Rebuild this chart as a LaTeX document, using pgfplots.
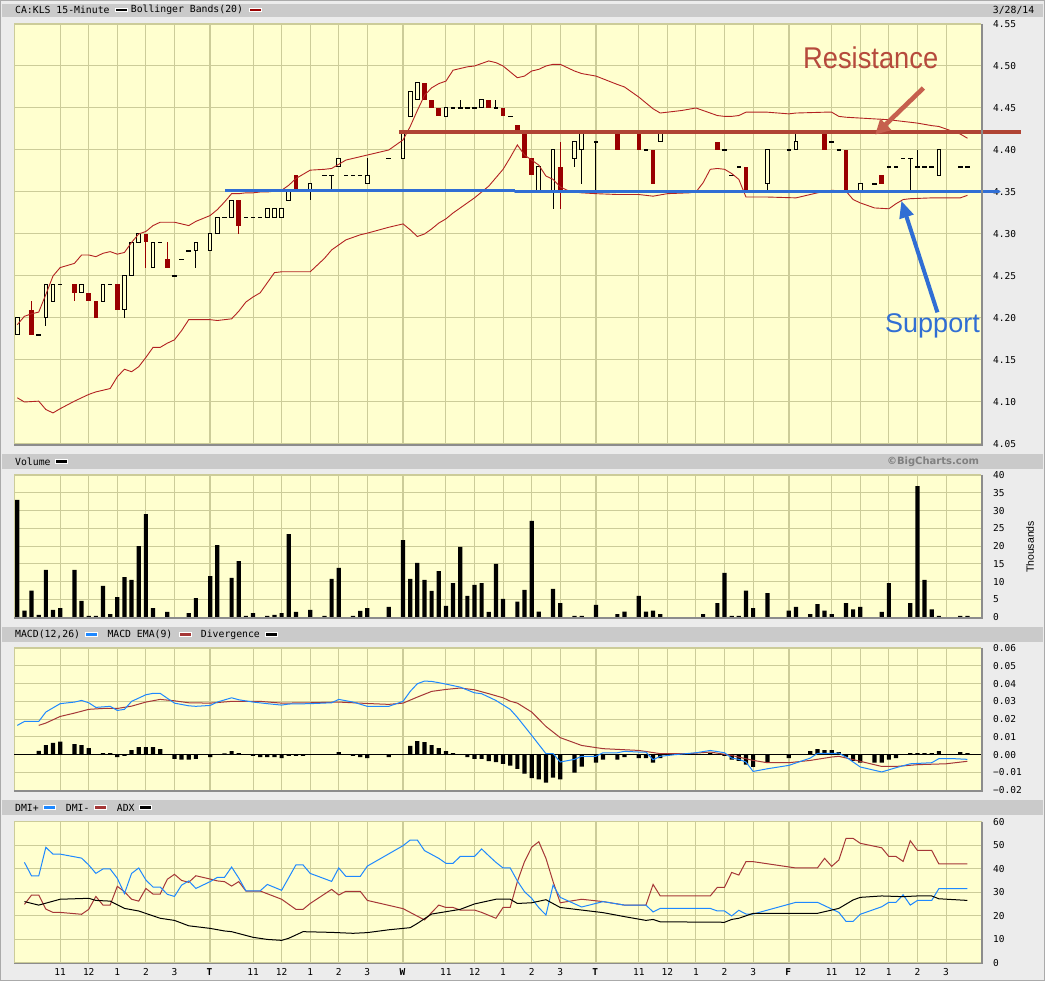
\documentclass[border=0pt]{standalone}
\usepackage{fontspec}
\setmainfont{Liberation Sans}
\setmonofont{DejaVu Sans Mono}
\newfontfamily\wmfont{DejaVu Sans}
\usepackage{graphicx}
\usepackage{pgfplots}
\usepackage{pgfplotstable}
\pgfplotsset{compat=1.18}
\usetikzlibrary{arrows.meta}

\definecolor{pagegray}{RGB}{236,236,236}
\definecolor{framegray}{RGB}{170,170,170}
\definecolor{hdrbar}{RGB}{202,202,202}
\definecolor{plotbg}{RGB}{255,255,207}
\definecolor{gridc}{RGB}{204,204,153}
\definecolor{shadowgray}{RGB}{140,140,140}
\definecolor{candlered}{RGB}{153,0,0}
\definecolor{bandred}{RGB}{178,34,34}
\definecolor{resist}{RGB}{176,68,52}
\definecolor{resisttext}{RGB}{182,74,60}
\definecolor{resistarrow}{RGB}{198,96,78}
\definecolor{supportblue}{RGB}{48,110,212}
\definecolor{macdblue}{RGB}{30,136,255}
\definecolor{emared}{RGB}{165,55,55}

\newcommand{\pix}{\ttfamily\fontsize{9.5}{10}\selectfont}
\newcommand{\hdr}{\ttfamily\fontsize{9.8}{10}\selectfont}
\newcommand{\swatch}[3]{\filldraw[fill=#1, draw=white, line width=0.8pt] (#2,#3-1.8) rectangle ++(12,3.6);}

% candles: slot, open, high, low, close (27 slots per day, slot 26 = 16:00 is empty)
\pgfplotstableread{
s o h l c
0 4.18 4.20 4.18 4.20
4 4.20 4.24 4.19 4.24
5 4.22 4.24 4.22 4.24
9 4.23 4.24 4.23 4.24
12 4.22 4.24 4.22 4.24
15 4.21 4.25 4.20 4.25
16 4.25 4.29 4.25 4.29
17 4.29 4.30 4.29 4.30
19 4.26 4.29 4.26 4.29
25 4.28 4.29 4.26 4.29
27 4.28 4.30 4.28 4.30
28 4.30 4.32 4.30 4.32
30 4.32 4.34 4.32 4.34
35 4.32 4.33 4.32 4.33
36 4.32 4.33 4.32 4.33
37 4.32 4.33 4.32 4.33
38 4.34 4.35 4.34 4.35
41 4.35 4.36 4.34 4.36
45 4.38 4.39 4.38 4.39
49 4.36 4.39 4.36 4.37
54 4.39 4.42 4.39 4.42
55 4.44 4.47 4.44 4.47
56 4.46 4.48 4.46 4.48
60 4.44 4.45 4.44 4.45
65 4.45 4.46 4.45 4.46
73 4.35 4.38 4.35 4.38
75 4.35 4.40 4.33 4.40
78 4.39 4.41 4.38 4.41
79 4.40 4.42 4.36 4.42
90 4.41 4.42 4.41 4.42
105 4.36 4.40 4.35 4.40
109 4.40 4.42 4.40 4.41
118 4.35 4.36 4.35 4.36
129 4.37 4.40 4.37 4.40
}\upc

\pgfplotstableread{
s o h l c
2 4.21 4.22 4.18 4.18
8 4.24 4.24 4.22 4.23
10 4.23 4.23 4.22 4.22
11 4.22 4.22 4.20 4.20
14 4.24 4.24 4.21 4.21
18 4.30 4.30 4.26 4.29
21 4.27 4.29 4.26 4.26
31 4.34 4.34 4.30 4.31
39 4.37 4.37 4.35 4.35
57 4.48 4.48 4.46 4.46
58 4.46 4.46 4.45 4.45
59 4.45 4.45 4.44 4.44
66 4.46 4.46 4.45 4.45
68 4.45 4.45 4.44 4.44
70 4.43 4.43 4.42 4.42
71 4.42 4.42 4.39 4.39
72 4.39 4.39 4.37 4.37
76 4.38 4.41 4.33 4.35
84 4.42 4.42 4.40 4.40
87 4.42 4.42 4.40 4.40
89 4.40 4.40 4.36 4.36
98 4.41 4.41 4.40 4.40
102 4.38 4.38 4.35 4.35
113 4.42 4.42 4.40 4.40
116 4.40 4.40 4.35 4.35
121 4.37 4.37 4.36 4.36
}\dnc

\pgfplotstableread{
s o h l c
3 4.18 4.18 4.18 4.18
6 4.24 4.24 4.24 4.24
13 4.24 4.24 4.24 4.24
20 4.29 4.29 4.29 4.29
22 4.25 4.25 4.25 4.25
23 4.27 4.27 4.27 4.27
24 4.28 4.28 4.28 4.28
29 4.32 4.32 4.32 4.32
32 4.32 4.32 4.32 4.32
33 4.32 4.32 4.32 4.32
34 4.32 4.32 4.32 4.32
43 4.37 4.37 4.37 4.37
44 4.37 4.37 4.35 4.37
46 4.37 4.37 4.37 4.37
47 4.37 4.37 4.37 4.37
48 4.37 4.37 4.37 4.37
52 4.39 4.39 4.39 4.39
61 4.45 4.45 4.45 4.45
62 4.45 4.46 4.45 4.45
63 4.45 4.45 4.45 4.45
64 4.45 4.45 4.45 4.45
67 4.45 4.46 4.45 4.45
69 4.44 4.44 4.44 4.44
81 4.41 4.41 4.35 4.41
88 4.40 4.40 4.40 4.40
99 4.40 4.40 4.40 4.40
100 4.37 4.37 4.37 4.37
101 4.38 4.38 4.38 4.38
108 4.40 4.40 4.40 4.40
114 4.41 4.41 4.41 4.41
115 4.40 4.40 4.40 4.40
120 4.36 4.36 4.36 4.36
122 4.38 4.38 4.38 4.38
123 4.38 4.38 4.38 4.38
124 4.39 4.39 4.39 4.39
125 4.39 4.39 4.35 4.39
126 4.38 4.40 4.38 4.38
127 4.38 4.38 4.38 4.38
128 4.38 4.38 4.38 4.38
132 4.38 4.38 4.38 4.38
133 4.38 4.38 4.38 4.38
}\dojic

\pgfplotstableread{
s v
0 4.192
1 4.202
2 4.205
3 4.207
4 4.228
5 4.250
6 4.260
8 4.265
9 4.275
10 4.275
11 4.273
12 4.277
13 4.279
14 4.276
15 4.278
16 4.290
17 4.300
18 4.303
19 4.310
20 4.314
21 4.314
22 4.314
23 4.312
24 4.310
25 4.315
27 4.322
28 4.329
29 4.338
30 4.348
31 4.348
32 4.349
33 4.349
34 4.350
35 4.350
36 4.351
37 4.352
38 4.358
39 4.366
40 4.371
41 4.376
43 4.377
44 4.378
45 4.383
46 4.388
47 4.390
48 4.392
49 4.394
52 4.400
54 4.412
55 4.428
56 4.447
57 4.465
58 4.474
59 4.479
60 4.482
61 4.495
62 4.497
63 4.499
64 4.500
65 4.503
66 4.506
67 4.504
68 4.500
69 4.493
70 4.486
71 4.488
72 4.494
73 4.496
74 4.500
75 4.502
76 4.502
78 4.494
79 4.491
81 4.488
84 4.478
85 4.475
87 4.463
88 4.456
89 4.449
90 4.444
93 4.447
95 4.450
98 4.441
99 4.440
100 4.440
101 4.441
102 4.445
105 4.445
108 4.443
109 4.444
113 4.445
114 4.445
115 4.440
116 4.439
118 4.438
120 4.437
122 4.436
124 4.434
126 4.432
128 4.429
129 4.428
132 4.419
133 4.414
}\bbup

\pgfplotstableread{
s v
0 4.105
1 4.100
3 4.101
4 4.091
5 4.087
6 4.092
8 4.101
9 4.105
10 4.109
11 4.112
12 4.114
13 4.116
14 4.130
15 4.139
16 4.136
17 4.142
18 4.153
19 4.165
20 4.165
21 4.170
22 4.174
23 4.185
24 4.198
25 4.198
27 4.198
28 4.197
29 4.198
30 4.199
31 4.208
32 4.219
33 4.225
34 4.230
35 4.242
36 4.254
37 4.255
39 4.255
41 4.255
43 4.271
44 4.281
45 4.287
46 4.293
47 4.296
48 4.299
49 4.301
52 4.308
54 4.312
55 4.305
56 4.297
57 4.300
58 4.306
59 4.313
60 4.318
61 4.325
62 4.331
63 4.337
64 4.343
65 4.350
66 4.357
67 4.367
68 4.377
69 4.391
70 4.406
71 4.394
72 4.388
73 4.382
74 4.369
75 4.365
76 4.356
77 4.352
78 4.350
79 4.349
81 4.348
84 4.347
87 4.347
89 4.345
91 4.348
94 4.349
95 4.350
96 4.361
97 4.377
98 4.378
99 4.377
100 4.372
101 4.365
102 4.344
105 4.344
109 4.343
112 4.349
114 4.352
116 4.351
117 4.341
118 4.337
120 4.331
122 4.330
123 4.336
124 4.341
125 4.342
128 4.343
132 4.343
133 4.346
}\bblow

% volume, thousands
\pgfplotstableread{
s v
0 33.0
1 1.9
2 7.5
3 0.7
4 13.3
5 2.1
6 2.6
8 13.3
9 4.6
10 0.4
11 0.4
12 8.8
13 0.9
14 5.7
15 11.3
16 10.5
17 20.0
18 29.0
19 2.6
21 1.5
24 1.2
25 5.4
27 11.6
28 20.3
30 11.1
31 15.8
32 0.4
33 1.2
35 0.4
36 0.7
37 1.2
38 23.4
39 1.5
41 2.1
43 0.4
44 10.8
45 13.9
47 0.4
48 1.8
49 2.6
52 2.9
54 21.7
55 10.8
56 15.3
57 10.5
58 7.4
59 13.0
60 3.2
61 9.6
62 19.8
63 6.0
64 9.1
65 9.6
66 1.5
67 15.0
68 5.2
70 4.4
71 7.7
72 27.1
73 1.6
75 8.0
76 4.0
78 0.4
79 0.4
81 3.5
84 0.9
85 1.6
87 6.0
88 1.6
89 1.9
90 0.9
96 0.9
98 4.0
99 12.5
100 0.4
101 0.4
102 7.5
103 2.6
105 6.8
108 1.9
109 2.9
111 0.9
112 3.7
113 1.9
114 0.9
116 4.0
117 2.2
118 2.9
121 1.5
122 9.6
125 4.0
126 36.9
127 10.5
128 2.2
129 0.4
132 0.4
133 0.4
}\vol

\pgfplotstableread{
s v
0 0.0165
1 0.0187
3 0.0187
4 0.0240
6 0.0287
8 0.0296
9 0.0305
10 0.0292
11 0.0266
13 0.0272
14 0.0249
15 0.0255
16 0.0300
18 0.0337
19 0.0345
20 0.0345
22 0.0290
24 0.0275
25 0.0272
27 0.0277
28 0.0296
30 0.0320
31 0.0309
33 0.0296
35 0.0287
37 0.0279
38 0.0285
41 0.0287
44 0.0292
45 0.0311
47 0.0296
49 0.0272
52 0.0272
54 0.0300
55 0.0356
56 0.0399
57 0.0414
58 0.0412
59 0.0405
60 0.0397
62 0.0380
64 0.0348
65 0.0343
67 0.0305
69 0.0255
70 0.0210
72 0.0109
74 0.0006
75 0.0006
76 -0.0041
78 -0.0026
79 -0.0009
81 -0.0009
82 0.0011
84 0.0011
85 0.0019
87 0.0015
88 0.0015
89 -0.0028
90 -0.0009
92 0.0000
95 0.0011
97 0.0024
99 0.0011
100 -0.0019
101 -0.0026
102 -0.0041
103 -0.0094
105 -0.0079
108 -0.0060
111 -0.0019
112 0.0007
114 0.0007
115 0.0009
116 -0.0013
118 -0.0069
121 -0.0097
123 -0.0073
125 -0.0051
128 -0.0045
129 -0.0022
131 -0.0022
133 -0.0026
}\macd

\pgfplotstableread{
s v
3 0.0165
4 0.0178
6 0.0215
8 0.0234
10 0.0255
12 0.0260
14 0.0260
16 0.0273
18 0.0296
20 0.0311
22 0.0303
24 0.0292
27 0.0290
30 0.0300
34 0.0300
37 0.0290
41 0.0292
45 0.0296
49 0.0288
52 0.0283
54 0.0290
56 0.0324
58 0.0356
60 0.0367
62 0.0375
64 0.0365
66 0.0343
68 0.0320
69 0.0301
70 0.0290
72 0.0240
74 0.0159
76 0.0096
79 0.0052
82 0.0034
85 0.0028
87 0.0024
90 0.0006
94 0.0006
97 0.0015
100 -0.0004
103 -0.0032
105 -0.0045
108 -0.0045
111 -0.0032
114 -0.0013
115 -0.0009
118 -0.0037
121 -0.0066
123 -0.0066
126 -0.0056
130 -0.0051
133 -0.0037
}\ema

\pgfplotstableread{
s v
3 0.0022
4 0.0054
5 0.0066
6 0.0073
8 0.0060
9 0.0054
10 0.0037
12 0.0009
13 0.0009
14 -0.0013
15 -0.0006
16 0.0026
17 0.0043
18 0.0043
19 0.0043
20 0.0032
22 -0.0024
23 -0.0028
24 -0.0028
25 -0.0024
27 -0.0013
29 0.0007
30 0.0020
31 0.0009
33 -0.0007
34 -0.0013
35 -0.0013
36 -0.0013
37 -0.0019
38 -0.0007
39 -0.0007
40 -0.0007
45 0.0015
47 -0.0007
48 -0.0013
49 -0.0019
52 -0.0013
55 0.0049
56 0.0077
57 0.0071
58 0.0054
59 0.0037
60 0.0020
61 0.0009
63 -0.0013
64 -0.0024
65 -0.0024
66 -0.0036
67 -0.0041
68 -0.0052
69 -0.0062
70 -0.0080
71 -0.0107
72 -0.0131
73 -0.0139
74 -0.0157
75 -0.0129
76 -0.0139
78 -0.0101
79 -0.0067
81 -0.0045
82 -0.0028
84 -0.0028
85 -0.0013
87 -0.0019
88 -0.0019
89 -0.0045
90 -0.0019
97 0.0011
99 -0.0006
100 -0.0028
101 -0.0034
102 -0.0056
103 -0.0069
105 -0.0041
108 -0.0019
111 0.0020
112 0.0032
113 0.0026
114 0.0026
115 0.0015
116 -0.0013
117 -0.0034
118 -0.0045
120 -0.0045
121 -0.0045
122 -0.0028
123 -0.0019
125 0.0009
126 0.0009
127 0.0009
128 0.0009
129 0.0020
132 0.0015
133 0.0009
}\diverg

\pgfplotstableread{
s v
1 42.7
2 36.9
3 36.9
4 49.1
5 46.2
6 46.2
9 44.5
10 41.6
11 38.0
12 39.9
13 39.9
14 35.9
15 29.4
16 38.0
17 40.3
18 35.2
19 32.2
20 32.2
21 29.1
22 28.2
23 33.0
24 34.8
25 31.6
27 34.5
28 36.3
29 36.3
30 40.7
31 36.0
32 30.6
34 30.6
35 33.3
37 30.8
39 41.6
40 41.6
41 38.0
44 34.6
45 40.3
46 36.7
48 36.7
49 41.1
54 49.8
55 52.2
56 52.2
57 47.7
59 44.4
60 42.3
61 42.3
62 45.2
64 45.2
65 48.4
66 45.5
67 42.7
68 40.3
69 40.3
70 34.8
71 30.2
72 27.4
73 23.4
74 20.3
75 33.0
76 27.8
79 23.7
82 26.0
85 24.5
88 24.5
89 21.6
90 23.1
97 23.1
98 22.0
99 22.0
100 19.9
101 22.3
102 20.7
103 20.7
109 25.7
112 25.7
115 21.4
116 17.6
117 17.6
118 20.6
121 23.8
122 25.7
123 25.7
124 28.9
125 24.5
126 26.5
128 26.5
129 31.5
133 31.5
}\dmiplus

\pgfplotstableread{
s v
1 24.8
2 28.8
3 28.8
4 22.8
5 21.4
6 21.4
9 20.6
10 22.7
11 28.2
12 24.5
13 24.5
14 32.5
15 30.2
16 27.0
17 26.2
18 31.6
19 29.2
20 29.2
21 35.5
22 37.6
23 35.0
24 34.2
25 37.0
27 35.6
28 34.8
29 34.5
30 32.6
31 34.5
32 30.5
34 30.5
37 27.0
39 22.7
40 22.7
41 25.2
44 31.2
45 28.8
46 30.4
48 30.4
49 26.5
54 23.0
55 21.4
57 18.2
59 24.5
60 23.5
61 23.5
62 22.4
64 22.4
65 21.4
67 18.9
68 23.5
69 23.5
70 34.5
71 43.0
72 49.1
73 51.5
74 44.4
75 34.5
76 25.5
79 27.0
82 26.0
85 24.5
88 24.5
89 33.3
90 28.4
97 28.4
98 32.1
99 32.1
100 38.4
101 37.3
102 43.0
103 43.0
109 40.3
112 40.3
113 44.4
114 41.0
115 43.7
116 52.9
117 52.9
118 50.8
121 48.9
122 45.2
123 45.2
124 43.1
125 51.9
126 47.8
128 47.8
129 42.0
133 42.0
}\dmiminus

\pgfplotstableread{
s v
1 26.0
3 24.5
6 27.0
10 27.4
11 26.5
13 26.2
15 23.1
17 22.0
20 18.9
22 18.0
24 15.7
27 14.6
29 13.5
30 13.2
33 10.8
35 9.9
37 9.5
38 10.4
40 13.2
44 12.9
47 12.5
49 12.8
52 14.0
55 14.9
56 16.7
58 20.7
60 21.7
62 22.7
64 25.0
67 27.0
69 27.0
70 25.2
72 25.5
74 26.8
76 23.5
79 22.4
82 21.3
85 19.6
88 18.0
89 18.4
90 17.4
99 17.2
100 18.4
101 18.9
103 21.0
112 21.0
114 22.4
115 23.1
117 26.7
118 27.8
121 28.4
124 28.1
126 28.4
128 28.4
129 27.2
133 26.5
}\adx

\pgfplotsset{
  panel/.style={
    scale only axis, width=967pt,
    xmin=-0.46, xmax=134.9,
    axis background/.style={fill=plotbg},
    axis line style={draw=gridc},
    xtick={6,10,14,18,22,26.91,33,37,41,45,49,53.91,60,64,68,72,76,80.91,87,91,95,99,103,107.91,114,118,122,126,130},
    xticklabels={},
    extra x ticks={27.09,54.09,81.09,108.09},
    extra x tick labels={},
    extra x tick style={grid=major, major grid style={draw=gridc, line width=1pt}},
    grid=major,
    major grid style={draw=gridc, line width=1pt},
    major tick length=0pt,
    tick style={draw=none},
    scaled y ticks=false,
    yticklabel pos=right,
    yticklabel style={anchor=west, inner sep=0pt, xshift=12pt, font=\pix},
    after end axis/.code={
      \draw[draw=shadowgray, line width=1.6pt]
        ([xshift=0.8pt]rel axis cs:1,1) -- ([xshift=0.8pt,yshift=-0.8pt]rel axis cs:1,0)
        -- ([yshift=-0.8pt]rel axis cs:0,0);
    },
  },
  wick/.style={draw=none, no markers, error bars/.cd, y dir=both, y explicit,
    error mark=none, error bar style={draw=#1, line width=1pt}},
  body/.style 2 args={draw=none, no markers, error bars/.cd, y dir=both, y explicit,
    error mark=none, error bar style={draw=#1, line width=#2}},
  curve/.style={mark=none, line width=1pt, #1},
}

\begin{document}
\begin{tikzpicture}[x=1pt,y=1pt]
\fill[pagegray] (0,0) rectangle (1045,981);
\draw[framegray, line width=1.2pt] (0.6,0.6) rectangle (1044.4,980.4);

% panel header strips
\fill[hdrbar] (2,964.3) rectangle (1043,977);
\fill[hdrbar] (2,512) rectangle (1043,527);
\fill[hdrbar] (2,339) rectangle (1043,354);
\fill[hdrbar] (2,166) rectangle (1043,181);

\node[anchor=west, inner sep=0, font=\hdr] at (15,971) {CA:KLS 15-Minute};
\swatch{black}{115.7}{971}
\node[anchor=west, inner sep=0, font=\hdr] at (130.7,971) {Bollinger Bands(20)};
\swatch{candlered}{249.5}{971}
\node[anchor=west, inner sep=0, font=\hdr] at (992.7,971) {3/28/14};

\node[anchor=west, inner sep=0, font=\hdr] at (15,519.3) {Volume};
\swatch{black}{55.7}{519.3}
\node[anchor=east, inner sep=0, text=gray, font=\wmfont\bfseries\fontsize{10}{10}\selectfont] at (979.3,519.3) {©BigCharts.com};

\node[anchor=west, inner sep=0, font=\hdr] at (15,346.3) {MACD(12,26)};
\swatch{macdblue}{85.7}{346.3}
\node[anchor=west, inner sep=0, font=\hdr] at (107.3,346.3) {MACD EMA(9)};
\swatch{emared}{179}{346.3}
\node[anchor=west, inner sep=0, font=\hdr] at (200.7,346.3) {Divergence};
\swatch{black}{265.7}{346.3}

\node[anchor=west, inner sep=0, font=\hdr] at (15,173.3) {DMI+};
\swatch{macdblue}{43.3}{173.3}
\node[anchor=west, inner sep=0, font=\hdr] at (65.7,173.3) {DMI-};
\swatch{emared}{94.3}{173.3}
\node[anchor=west, inner sep=0, font=\hdr] at (116.7,173.3) {ADX};
\swatch{black}{139.3}{173.3}

% ---- price with Bollinger bands
\begin{axis}[panel, at={(14pt,537pt)}, anchor=south west, height=420pt,
  ymin=4.05, ymax=4.55, clip=false,
  ytick={4.05,4.1,4.15,4.2,4.25,4.3,4.35,4.4,4.45,4.5,4.55},
  yticklabels={4.05,4.10,4.15,4.20,4.25,4.30,4.35,4.40,4.45,4.50,4.55}]
\addplot[wick=black] table[x=s, y expr={(\thisrow{h}+\thisrow{l})/2}, y error expr={(\thisrow{h}-\thisrow{l})/2}] {\upc};
\addplot[wick=candlered] table[x=s, y expr={(\thisrow{h}+\thisrow{l})/2}, y error expr={(\thisrow{h}-\thisrow{l})/2}] {\dnc};
\addplot[wick=black] table[x=s, y expr={(\thisrow{h}+\thisrow{l})/2}, y error expr={(\thisrow{h}-\thisrow{l})/2}] {\dojic};
\addplot[body={black}{4.6pt}] table[x=s, y expr={(\thisrow{o}+\thisrow{c})/2}, y error expr={(\thisrow{c}-\thisrow{o})/2+0.0006}] {\upc};
\addplot[body={plotbg}{2.6pt}] table[x=s, y expr={(\thisrow{o}+\thisrow{c})/2}, y error expr={(\thisrow{c}-\thisrow{o})/2-0.0006}] {\upc};
\addplot[body={candlered}{4.6pt}] table[x=s, y expr={(\thisrow{o}+\thisrow{c})/2}, y error expr={(\thisrow{o}-\thisrow{c})/2}] {\dnc};
\addplot[body={black}{4.6pt}] table[x=s, y=c, y error expr={0.0006}] {\dojic};
\addplot[curve=bandred, line width=0.9pt] table[x=s, y=v] {\bbup};
\addplot[curve=bandred, line width=0.9pt] table[x=s, y=v] {\bblow};
% drawn-in resistance / support
\addplot[resist, mark=none, line width=3.2pt] coordinates {(53.4,4.4214) (140.5,4.4214)};
\addplot[supportblue, mark=none, line width=3.4pt] coordinates {(29.1,4.3518) (69.7,4.3518)};
\addplot[supportblue, mark=none, line width=3.4pt, line cap=round] coordinates {(69.7,4.3506) (137.4,4.3506)};
\addplot[resistarrow, mark=none, line width=4.6pt, -{Triangle[length=15pt, width=15pt]}] coordinates {(126.84,4.4738) (120.08,4.4182)};
\addplot[supportblue, mark=none, line width=4pt, -{Triangle[length=17pt, width=14pt]}] coordinates {(128.8,4.2067) (123.75,4.3396)};
\end{axis}

% ---- volume
\begin{axis}[panel, at={(14pt,363.7pt)}, anchor=south west, height=142.3pt,
  ymin=0, ymax=40, ytick={0,5,10,15,20,25,30,35,40},
  yticklabels={0,5,10,15,20,25,30,35,40}]
\addplot[ybar, bar width=4.2pt, fill=black, draw=none] table[x=s, y=v] {\vol};
\end{axis}
\node[rotate=90, inner sep=0, font=\fontsize{10.5}{11}\selectfont] at (1030,434) {Thousands};

% ---- MACD
\begin{axis}[panel, at={(14pt,190.7pt)}, anchor=south west, height=142.3pt,
  ymin=-0.02, ymax=0.06,
  ytick={-0.02,-0.01,0,0.01,0.02,0.03,0.04,0.05,0.06},
  yticklabels={−0.02,−0.01,0.00,0.01,0.02,0.03,0.04,0.05,0.06},
  extra y ticks={0}, extra y tick labels={},
  extra y tick style={grid=major, major grid style={draw=black, line width=1pt}}]
\addplot[ybar, bar width=4.2pt, fill=black, draw=none] table[x=s, y=v] {\diverg};
\addplot[curve=emared] table[x=s, y=v] {\ema};
\addplot[curve=macdblue] table[x=s, y=v] {\macd};
\end{axis}

% ---- DMI
\begin{axis}[panel, at={(14pt,18.3pt)}, anchor=south west, height=141pt,
  ymin=0, ymax=60, ytick={0,10,20,30,40,50,60},
  yticklabels={0,10,20,30,40,50,60},
  xticklabels={11,12,1,2,3,\textbf{T},11,12,1,2,3,\textbf{W},11,12,1,2,3,\textbf{T},11,12,1,2,3,\textbf{F},11,12,1,2,3},
  xticklabel style={anchor=north, inner sep=0pt, yshift=-5.6pt, font=\pix}]
\addplot[curve=emared] table[x=s, y=v] {\dmiminus};
\addplot[curve=macdblue] table[x=s, y=v] {\dmiplus};
\addplot[curve=black] table[x=s, y=v] {\adx};
\end{axis}

% annotations written on the chart
\node[anchor=base west, inner sep=0, text=resisttext, font=\fontsize{30}{30}\selectfont] at (803,912.7) {\scalebox{0.91}[1]{Resistance}};
\node[anchor=base west, inner sep=0, text=supportblue, font=\fontsize{27}{27}\selectfont] at (885,648) {Support};

\pgfresetboundingbox
\useasboundingbox (0,0) rectangle (1045,981);
\end{tikzpicture}
\end{document}
